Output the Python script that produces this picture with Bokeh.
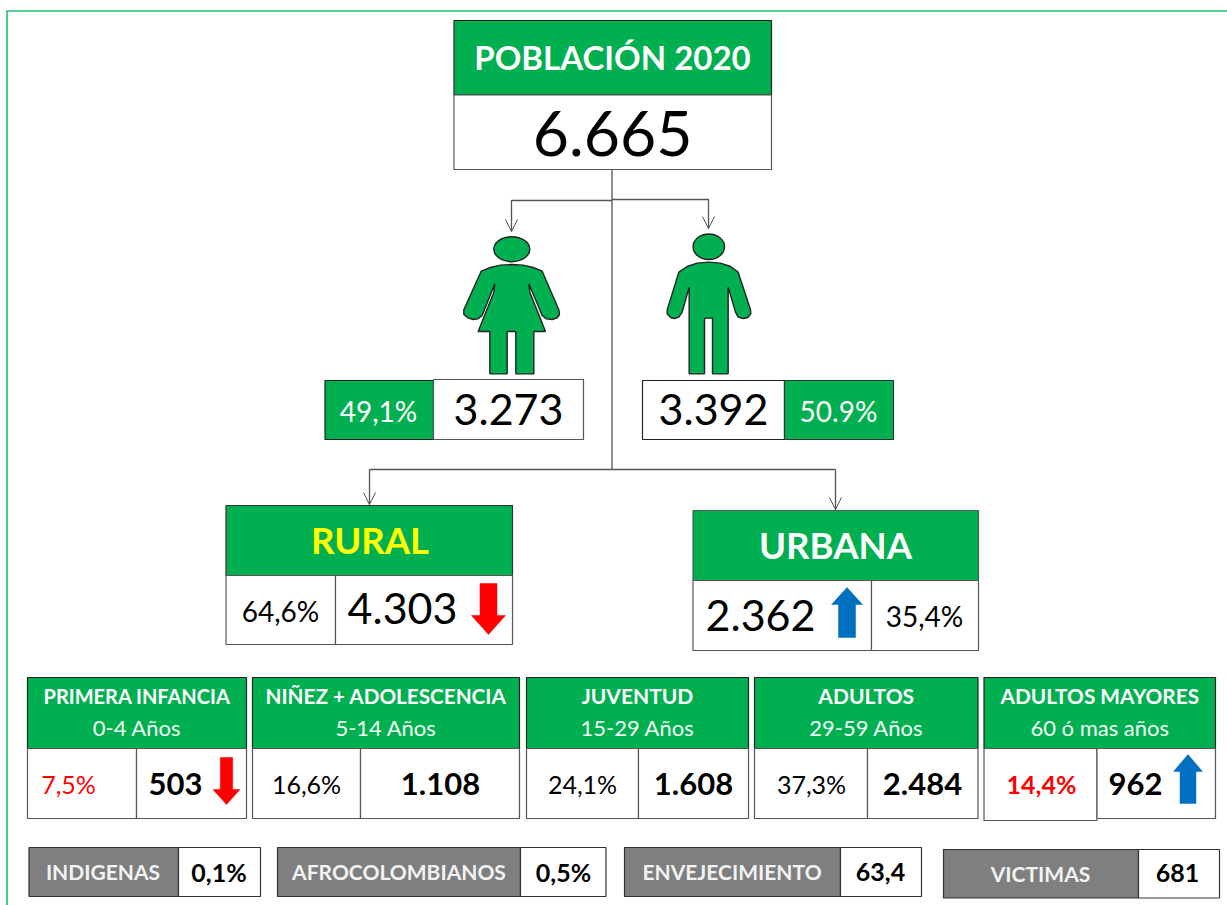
from bokeh.plotting import figure
from bokeh.models import Range1d
from bokeh.core.properties import value
from bokeh.embed import file_html
from bokeh.resources import INLINE

# ---- data -------------------------------------------------
total_title = "POBLACIÓN 2020"
total_value = "6.665"
sex_percent = ["49,1%", "50.9%"]
sex_value = ["3.273", "3.392"]
zone_names = ["RURAL", "URBANA"]
zone_percent = ["64,6%", "35,4%"]
zone_value = ["4.303", "2.362"]
age_titles = ["PRIMERA INFANCIA", "NIÑEZ + ADOLESCENCIA", "JUVENTUD", "ADULTOS", "ADULTOS MAYORES"]
age_ranges = ["0-4 Años", "5-14 Años", "15-29 Años", "29-59 Años", "60 ó mas años"]
age_percent = ["7,5%", "16,6%", "24,1%", "37,3%", "14,4%"]
age_value = ["503", "1.108", "1.608", "2.484", "962"]
group_names = ["INDIGENAS", "AFROCOLOMBIANOS", "ENVEJECIMIENTO", "VICTIMAS"]
group_value = ["0,1%", "0,5%", "63,4", "681"]

GREEN = "#00B050"
GREY = "#7F7F7F"
RED = "#FF0000"
BLUE = "#0070C0"
EDGE = "#333333"
FONT = value("Lato")

p = figure(width=1227, height=905, output_backend="svg", toolbar_location=None,
           x_range=Range1d(0, 1227), y_range=Range1d(905, 0),
           x_axis_type=None, y_axis_type=None, min_border=0)
p.grid.visible = False
p.outline_line_color = None
p.background_fill_color = "white"


def box(l, r, t, b, fill="white", edge=EDGE, w=1.2):
    p.quad(left=[l], right=[r], top=[t], bottom=[b], fill_color=fill, line_color=edge, line_width=w)


def txt(x, y, s, size, color="black", bold=False):
    p.text(x=[x], y=[y - 1], text=[s], text_font=FONT, text_font_size=f"{size}px",
           text_color=color, text_align="center", text_baseline="middle",
           text_font_style="bold" if bold else "normal")


def conn(xs, ys):
    p.line(xs, ys, line_color="#555555", line_width=1.3)


def head(x, y):
    p.line([x - 6, x, x + 6], [y - 12, y, y - 12], line_color="#555555", line_width=1)


def arrow(cx, shaft, headw, y0, yneck, ytip, color):
    p.patch([cx - shaft, cx + shaft, cx + shaft, cx + headw, cx, cx - headw, cx - shaft],
            [y0, y0, yneck, yneck, ytip, yneck, yneck], fill_color=color, line_color=color, line_width=0.5)


# frame
p.line([6.5, 6.5], [905, 10.5], line_color="#1FC06E", line_width=1.6)
p.line([6, 1227], [10.5, 10.5], line_color="#1FC06E", line_width=1.6)

# connectors
conn([611.5, 611.5], [169, 469])
conn([611.5, 511, 511], [200, 200, 231])
conn([611.5, 708, 708], [199, 199, 228])
conn([369, 835], [469, 469])
conn([369, 369], [469, 504])
conn([835, 835], [469, 509])
head(511, 231)
head(708, 228)
head(369, 504)
head(835, 509)

# top card
box(453.5, 771, 20, 94.5, GREEN, "#222222")
box(453.5, 771, 94.5, 169, "white", "#555555")
txt(612, 57, total_title, 33, "white", True)
txt(612, 134, total_value, 62.5)


# person icons (outline traced in a 3x crop of the icon area)
def ix(v):
    return [440 + a / 3 for a in v]


def iy(v):
    return [220 + a / 3 for a in v]


fx = [122, 150, 180, 214, 248, 278, 305, 355, 357, 350, 335, 318, 305, 265, 268, 315, 280, 280, 226, 226, 200, 200,
      148, 148, 113, 160, 163, 125, 112, 98, 82, 70, 70]
fy = [152, 141, 134, 132, 134, 141, 152, 268, 282, 292, 297, 295, 285, 190, 215, 333, 333, 460, 460, 333, 333, 460,
      460, 333, 333, 215, 190, 285, 295, 297, 292, 282, 268]
mx = [715, 740, 770, 805, 840, 870, 893, 930, 931, 922, 908, 893, 885, 863, 863, 816, 816, 792, 792, 746, 746, 725,
      715, 702, 690, 680, 680]
my = [155, 138, 128, 125, 128, 138, 155, 268, 280, 291, 294, 290, 275, 200, 460, 460, 293, 293, 460, 460, 200, 275,
      290, 294, 291, 280, 268]
p.patch(ix(fx), iy(fy), fill_color=GREEN, line_color="#222222", line_width=1.4)
p.patch(ix(mx), iy(my), fill_color=GREEN, line_color="#222222", line_width=1.4)
p.ellipse([511.3], [248.7], width=36, height=25, fill_color=GREEN, line_color="#222222", line_width=1.4)
p.ellipse([708.3], [246.3], width=31.5, height=25.5, fill_color=GREEN, line_color="#222222", line_width=1.4)

# sex boxes
box(324.5, 433, 380, 439, GREEN, "#222222")
box(433, 583, 379, 439, "white", "#555555")
box(642, 784, 380, 439, "white", "#222222")
box(784, 893, 380, 439, GREEN, "#333333")
txt(378, 411, sex_percent[0], 28, "white")
txt(508, 410, sex_value[0], 43)
txt(713, 410, sex_value[1], 43)
txt(838, 411, sex_percent[1], 28, "white")

# rural / urban
box(225.5, 512, 505, 575, GREEN, "#333333")
box(225.5, 335, 575, 644, "white", "#555555")
box(335, 512, 575, 644, "white", "#555555")
txt(369.5, 540, zone_names[0], 36.5, "#FFFF00", True)
txt(280, 611, zone_percent[0], 28)
txt(402, 609, zone_value[0], 43)
arrow(488, 8.5, 17, 583, 615, 634, RED)

box(692.5, 978, 510, 580, GREEN, "#555555")
box(692.5, 871, 580, 650, "white", "#555555")
box(871, 978, 580, 650, "white", "#555555")
txt(835, 545, zone_names[1], 36.5, "white", True)
txt(924, 616, zone_percent[1], 28)
txt(760, 616, zone_value[1], 43)
arrow(846.5, 8.5, 15.5, 637, 604, 587, BLUE)

# age cards
card_left = [27, 252, 526, 754, 983.5]
card_right = [246, 519, 748, 977.5, 1215]
card_div = [136, 360, 638, 867, 1096.5]
pct_x = [68, 306, 582, 811, 1041]
val_x = [175, 440, 693, 922, 1135]
pct_col = [RED, "black", "black", "black", RED]
pct_bold = [False, False, False, False, True]
title_size = [20, 20.7, 21, 21, 20.8]
for i in range(5):
    l, r, d = card_left[i], card_right[i], card_div[i]
    box(l, r, 677, 748, GREEN, "#222222")
    box(l, d, 748, 820 if i == 4 else 818, "white", "#555555")
    box(d, r, 748, 818, "white", "#555555")
    txt((l + r) / 2, 696, age_titles[i], title_size[i], "white", True)
    txt((l + r) / 2, 728, age_ranges[i], 22, "#F2FFF6")
    txt(pct_x[i], 784, age_percent[i], 25, pct_col[i], pct_bold[i])
    txt(val_x[i], 784, age_value[i], 31, "black", True)
arrow(226, 6.2, 13.5, 757, 789, 804, RED)
arrow(1187.5, 8, 14.5, 803, 771, 754, BLUE)

# group boxes
g_left = [28.5, 277, 624, 943]
g_mid = [178, 520, 840, 1138]
g_right = [260, 605.5, 921, 1219]
g_top = [847, 847, 847, 849]
g_bot = [896, 896, 896, 897.5]
g_name_x = [102.5, 398.5, 731.5, 1040]
g_val_x = [218.5, 563, 880, 1177]
for i in range(4):
    box(g_left[i], g_mid[i], g_top[i], g_bot[i], GREY, "#333333")
    box(g_mid[i], g_right[i], g_top[i], g_bot[i], "white", "#333333")
    txt(g_name_x[i], (g_top[i] + g_bot[i]) / 2 + 0.5, group_names[i], 21, "#F2F2F2", True)
    txt(g_val_x[i], (g_top[i] + g_bot[i]) / 2 + 0.5, group_value[i], 25, "black", True)

open("out.html", "w").write(file_html(p, INLINE))
